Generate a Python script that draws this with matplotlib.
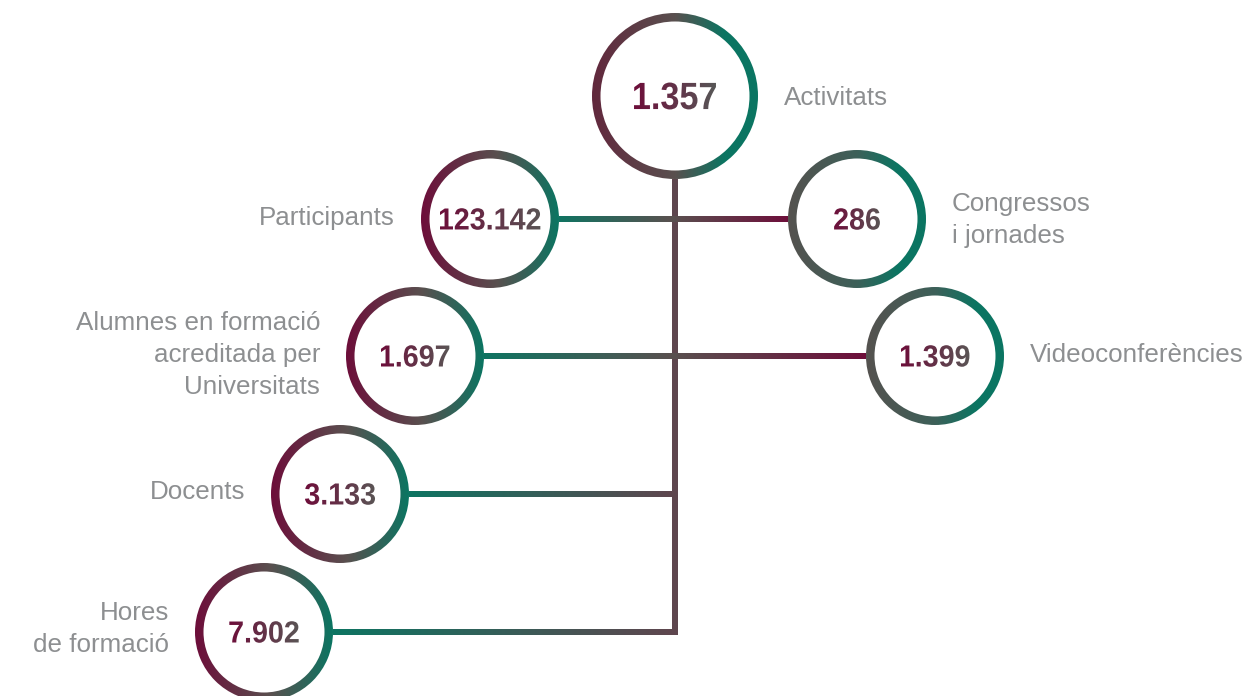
import matplotlib
matplotlib.use('Agg')
import matplotlib.pyplot as plt
import numpy as np
from matplotlib.colors import LinearSegmentedColormap
from matplotlib.patches import Wedge, Circle
from matplotlib.textpath import TextPath
from matplotlib.font_manager import FontProperties
from matplotlib.transforms import Affine2D
from matplotlib.collections import LineCollection

# Data
values = ['1.357', '123.142', '286', '1.697', '1.399', '3.133', '7.902']
labels = ['Activitats', 'Participants', 'Congressos\ni jornades',
          'Alumnes en formació\nacreditada per\nUniversitats',
          'Videoconferències', 'Docents', 'Hores\nde formació']

# Layout (pixel coordinates, y down)
centers = [(675, 96), (490, 219), (857, 219), (415, 356), (935, 356), (340, 494), (264, 632)]
radii = [83, 69, 69, 69, 69, 69, 69]
sides = ['right', 'left', 'right', 'left', 'right', 'left', 'left']
label_dy = [9, 6, 8, 6, 6, 5, 4]
trunk_x = 675

# Colours
MAROON = '#6d0e3a'
GRAY = '#59504f'
TEAL = '#0b7562'
BROWN = '#5e464e'
LABEL = '#8d8f91'

W, H = 1246, 696
fig = plt.figure(figsize=(W / 100, H / 100), dpi=100)
ax = fig.add_axes([0, 0, 1, 1])
ax.set_xlim(0, W)
ax.set_ylim(H, 0)
ax.set_autoscale_on(False)
ax.axis('off')

grad = np.linspace(0, 1, 256).reshape(1, -1)
px = 0.72  # points per pixel
fp_bold = FontProperties(family='Liberation Sans', weight='bold')


def cmap_of(colors):
    return LinearSegmentedColormap.from_list('g', colors)


def ring(cx, cy, R, w, colors):
    ax.add_patch(Circle((cx, cy), R, fc='white', ec='none', zorder=2))
    wedge = Wedge((cx, cy), R, 0, 360, width=w, transform=ax.transData)
    im = ax.imshow(grad, cmap=cmap_of(colors), extent=(cx - R, cx + R, cy + R, cy - R),
                   aspect='auto', interpolation='bilinear', zorder=3)
    im.set_clip_path(wedge)


def grad_text(s, cx, cy, size, sx, colors):
    tp = TextPath((0, 0), s, size=size, prop=fp_bold)
    bb = tp.get_extents()
    tr = (Affine2D().translate(-(bb.x0 + bb.x1) / 2, -(bb.y0 + bb.y1) / 2)
          .scale(sx, -1).translate(cx, cy))
    path = tr.transform_path(tp)
    w, h = bb.width * sx, bb.height
    im = ax.imshow(grad, cmap=cmap_of(colors),
                   extent=(cx - w / 2, cx + w / 2, cy + h / 2 + 2, cy - h / 2 - 2),
                   aspect='auto', interpolation='bilinear', zorder=4)
    im.set_clip_path(path, ax.transData)


def grad_line(x0, x1, y, colors):
    xs = np.linspace(x0, x1, 150)
    segs = [[(xs[i], y), (xs[i + 1], y)] for i in range(len(xs) - 1)]
    cols = cmap_of(colors)(np.linspace(0, 1, len(segs)))
    ax.add_collection(LineCollection(segs, colors=cols, linewidths=6 * px,
                                     capstyle='projecting', zorder=1))


# trunk and connectors
ax.plot([trunk_x, trunk_x], [centers[0][1] + 80, centers[6][1] + 3], color=BROWN,
        lw=6 * px, solid_capstyle='butt', zorder=1)
for i, j in [(1, 2), (3, 4)]:
    (lx, ly), (rx, ry) = centers[i], centers[j]
    grad_line(lx + radii[i] - 4, trunk_x, ly, [TEAL, GRAY])
    grad_line(trunk_x, rx - radii[j] + 4, ry, [GRAY, MAROON])
for i in (5, 6):
    cx, cy = centers[i]
    grad_line(cx + radii[i] - 4, trunk_x, cy, [TEAL, BROWN])

# circles, numbers and labels
for k, (val, lab) in enumerate(zip(values, labels)):
    cx, cy = centers[k]
    R = radii[k]
    if k == 0:
        ring_cols = [(0, '#62283d'), (0.5, GRAY), (0.8, TEAL), (1, TEAL)]
    elif sides[k] == 'right':
        ring_cols = [(0, '#55524f'), (0.5, '#3d6059'), (0.8, TEAL), (1, TEAL)]
    else:
        ring_cols = [(0, MAROON), (0.55, GRAY), (0.8, '#2f6459'), (1, TEAL)]
    ring(cx, cy, R, 8.5, ring_cols)

    if k == 0:
        grad_text(val, cx, cy, 38, 0.9, [MAROON, '#575757'])
    else:
        grad_text(val, cx, cy, 30.5, 0.94, [MAROON, '#5a5555'])

    lines = lab.split('\n')
    n = len(lines)
    base0 = cy + label_dy[k] - (n - 1) * 32 / 2
    if sides[k] == 'right':
        tx, ha = cx + R + 26, 'left'
    else:
        tx, ha = cx - R - 26, 'right'
    for m, line in enumerate(lines):
        ax.text(tx, base0 + m * 32, line, ha=ha, va='baseline', color=LABEL,
                fontsize=26 * px, family='Liberation Sans', zorder=5)

fig.savefig('out.png', dpi=100)
